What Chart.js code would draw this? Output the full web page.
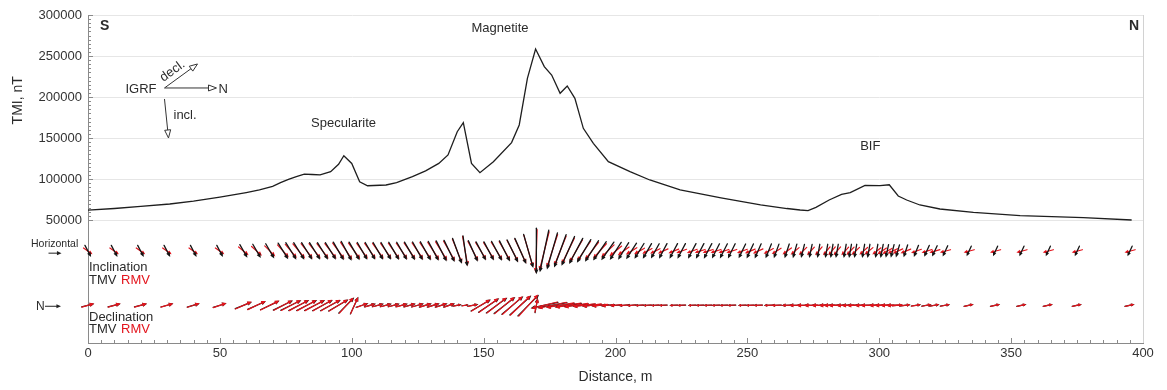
<!DOCTYPE html>
<html>
<head>
<meta charset="utf-8">
<script src="https://cdn.jsdelivr.net/npm/chart.js@4.4.1/dist/chart.umd.min.js"></script>
<style>
  html, body { margin: 0; padding: 0; background: #fff; }
</style>
</head>
<body>
<canvas id="c" width="1167" height="390"></canvas>
<script>
// TMI profile (distance m, nT)
const tmiDist = [0, 10, 20, 31, 40, 50, 60, 65, 70, 73, 76, 79, 82, 85, 88, 92, 95, 97, 100, 103,
  106, 113, 117, 123, 128, 133, 136.5, 140, 142.3, 145.4, 148.6, 153.7, 160.6, 163.5, 166.6, 169.7,
  173, 175.8, 179, 181.7, 184.6, 187.8, 191.6, 197.3, 205.5, 213, 224.5, 240, 255, 265, 270, 273,
  276, 281, 285.7, 289, 294.6, 300.3, 303.8, 307.2, 310.4, 315.4, 323, 335.7, 353.4, 377.4, 395.7];
const tmiValues = [62000, 64000, 66500, 69500, 73000, 78000, 83500, 86600, 91000, 95500, 99600, 103000,
  106000, 105500, 105000, 109000, 118000, 128400, 119000, 96700, 91800, 92700, 95500, 102800, 110000,
  119000, 129300, 157700, 168700, 119000, 107700, 121100, 144400, 165900, 222800, 258500, 237000,
  226800, 204500, 213400, 198400, 161800, 143500, 121100, 109000, 98800, 86600, 77000, 68500, 64000,
  62200, 61400, 65500, 74400, 81300, 83300, 92300, 91800, 93000, 79300, 74400, 68300, 63400, 59400,
  55300, 52800, 50000];

// magnetic vector stations (distance m)
const stations = [
  0, 10, 20, 30, 40, 50, 59, 64, 69, 74,
  77, 80, 83, 86, 89, 92, 95, 98, 101, 104,
  107, 110, 113, 116, 119, 122, 125, 128, 131, 134,
  137, 140, 143, 146, 149, 152, 155, 158, 161, 164,
  167, 170, 173, 176, 179, 182, 185, 188, 191, 194,
  197, 200, 203, 206, 209, 212, 215, 218, 222, 225,
  229, 232, 235, 238, 241, 244, 248, 251, 254, 258,
  261, 265, 268, 271, 274, 277, 280, 282, 284, 287,
  289, 291, 294, 296, 299, 301, 303, 305, 307, 310,
  314, 318, 321, 325, 334, 344, 354, 364, 375, 395];

// inclination section: direction (deg, 0 = N, 90 = down) and relative magnitude
const incTmvAng = [
  62, 62, 62, 62, 62, 62, 60, 60, 60, 58,
  58, 58, 58, 58, 58, 58, 60, 62, 60, 60,
  60, 60, 60, 60, 60, 60, 61, 61, 62, 63,
  64, 70, 82, 66, 62, 62, 62, 63, 64, 66,
  74, 90, 102, 106, 110, 114, 118, 121, 123, 125,
  125, 123, 122, 123, 122, 120, 119, 118, 118, 118,
  118, 118, 118, 117, 117, 116, 116, 115, 114, 112,
  110, 108, 106, 104, 102, 100, 100, 100, 100, 100,
  100, 100, 100, 100, 100, 101, 102, 104, 106, 108,
  112, 114, 115, 115, 115, 115, 115, 115, 115, 115];
const incTmvLen = [
  .26, .26, .26, .26, .26, .26, .30, .32, .34, .38,
  .40, .40, .40, .40, .40, .40, .42, .44, .42, .40,
  .40, .40, .40, .41, .41, .42, .42, .43, .44, .46,
  .48, .54, .62, .46, .42, .42, .44, .46, .50, .56,
  .70, .92, .86, .76, .70, .64, .58, .54, .50, .46,
  .44, .42, .40, .38, .36, .35, .34, .34, .34, .34,
  .34, .34, .34, .33, .33, .33, .32, .32, .32, .31,
  .30, .30, .29, .28, .28, .28, .28, .28, .28, .28,
  .28, .28, .28, .28, .28, .28, .27, .27, .26, .26,
  .25, .25, .24, .24, .22, .22, .22, .22, .22, .22];
const incRmvAng = [
  35, 35, 35, 35, 35, 35, 40, 42, 45, 48,
  50, 50, 52, 52, 52, 52, 54, 56, 54, 54,
  54, 54, 55, 55, 55, 55, 56, 56, 57, 58,
  60, 68, 80, 62, 58, 58, 58, 60, 62, 65,
  74, 92, 104, 108, 112, 116, 120, 124, 128, 132,
  136, 140, 144, 148, 150, 152, 154, 156, 158, 160,
  160, 162, 162, 162, 162, 162, 160, 158, 156, 152,
  148, 144, 140, 136, 132, 130, 130, 130, 130, 132,
  134, 136, 138, 140, 142, 146, 150, 154, 156, 158,
  160, 162, 164, 165, 165, 165, 165, 165, 165, 165];
const incRmvLen = [
  .22, .22, .22, .22, .22, .22, .26, .28, .30, .34,
  .36, .38, .38, .38, .38, .38, .40, .42, .40, .38,
  .38, .38, .38, .39, .39, .40, .40, .41, .42, .44,
  .46, .52, .60, .44, .40, .40, .42, .44, .48, .54,
  .66, .86, .80, .70, .64, .58, .52, .48, .44, .40,
  .36, .32, .28, .26, .24, .22, .22, .22, .22, .22,
  .22, .22, .22, .22, .22, .22, .22, .22, .22, .22,
  .22, .22, .22, .22, .22, .22, .22, .22, .22, .22,
  .22, .22, .22, .22, .22, .22, .22, .22, .22, .22,
  .22, .22, .22, .22, .22, .22, .22, .22, .22, .22];

// declination section (plan view, 0 = N)
const decTmvAng = [
  -14, -14, -14, -15, -16, -17, -22, -24, -25, -26,
  -26, -27, -27, -27, -28, -28, -30, -45, -65, -18,
  -15, -14, -14, -14, -14, -15, -15, -16, -16, -17,
  -18, -10, -8, -10, -30, -34, -36, -38, -40, -42,
  -45, -80, 168, 170, 172, 172, 173, 174, 174, 175,
  175, 176, 176, 176, 177, 177, 177, 178, 178, 178,
  178, 178, 178, 178, 178, 178, 178, 178, 178, 178,
  179, 179, 180, 180, 180, 180, 180, 180, 180, 180,
  180, 180, 180, 180, 180, 180, 180, 180, -4, -6,
  -8, -10, -10, -10, -12, -12, -12, -12, -12, -12];
const decTmvLen = [
  .26, .26, .26, .26, .26, .28, .36, .40, .42, .44,
  .46, .46, .46, .46, .46, .46, .46, .44, .38, .26,
  .24, .24, .24, .24, .25, .25, .26, .26, .26, .26,
  .24, .18, .14, .22, .46, .50, .52, .54, .56, .58,
  .60, .30, .56, .60, .58, .54, .50, .46, .40, .34,
  .28, .24, .20, .19, .18, .18, .17, .17, .17, .17,
  .17, .17, .17, .17, .17, .17, .17, .17, .18, .19,
  .20, .22, .24, .26, .28, .30, .32, .34, .36, .36,
  .36, .36, .36, .34, .32, .30, .28, .26, .22, .20,
  .20, .20, .20, .20, .20, .20, .20, .20, .20, .20];
const decRmvAng = [
  -16, -16, -16, -17, -18, -19, -24, -26, -27, -28,
  -28, -29, -29, -29, -30, -30, -32, -48, -66, -20,
  -17, -16, -16, -16, -16, -17, -17, -18, -18, -19,
  -20, -12, -10, -12, -32, -36, -38, -40, -42, -44,
  -48, -78, 166, 168, 170, 170, 171, 172, 172, 173,
  173, 174, 174, 174, 175, 175, 175, 176, 176, 176,
  176, 176, 176, 176, 176, 176, 176, 177, 177, 177,
  177, 178, 178, 178, 178, 178, 178, 178, 178, 178,
  178, 178, 178, 178, 178, 178, 178, 178, -6, -8,
  -10, -12, -12, -12, -14, -14, -14, -14, -14, -14];
const decRmvLen = [
  .26, .26, .26, .26, .26, .28, .36, .40, .42, .42,
  .44, .44, .44, .44, .44, .44, .44, .42, .36, .24,
  .22, .22, .22, .22, .23, .23, .24, .24, .24, .24,
  .22, .16, .12, .20, .44, .48, .50, .52, .54, .56,
  .58, .28, .54, .58, .56, .52, .48, .44, .38, .32,
  .26, .22, .18, .17, .16, .16, .16, .16, .16, .16,
  .16, .16, .16, .16, .16, .16, .16, .16, .17, .18,
  .19, .21, .23, .25, .27, .29, .31, .33, .35, .35,
  .35, .35, .35, .33, .31, .29, .27, .25, .21, .19,
  .19, .19, .19, .19, .19, .19, .19, .19, .19, .19];

const FONT = '"Liberation Sans", Arial, sans-serif';
const TXT = '#2b2b2b';
const BLACK = '#151515';
const RED = '#e3141c';

// arrow centred on (x, y)
function arrow(ctx, x, y, angDeg, len, color, width) {
  const a = angDeg * Math.PI / 180;
  const c = Math.cos(a), s = Math.sin(a);
  const x0 = x - c * len / 2, y0 = y - s * len / 2;
  const x1 = x + c * len / 2, y1 = y + s * len / 2;
  const h = Math.min(5, len * 0.4);
  ctx.strokeStyle = color; ctx.fillStyle = color; ctx.lineWidth = width;
  ctx.beginPath(); ctx.moveTo(x0, y0); ctx.lineTo(x1 - c * h * 0.5, y1 - s * h * 0.5); ctx.stroke();
  ctx.beginPath();
  ctx.moveTo(x1, y1);
  ctx.lineTo(x1 - h * Math.cos(a - 0.42), y1 - h * Math.sin(a - 0.42));
  ctx.lineTo(x1 - h * Math.cos(a + 0.42), y1 - h * Math.sin(a + 0.42));
  ctx.closePath(); ctx.fill();
}

// open-headed arrow from (x0,y0) to (x1,y1)
function openArrow(ctx, x0, y0, x1, y1) {
  const a = Math.atan2(y1 - y0, x1 - x0), h = 8;
  const bx = x1 - h * Math.cos(a), by = y1 - h * Math.sin(a);
  ctx.beginPath(); ctx.moveTo(x0, y0); ctx.lineTo(bx, by); ctx.stroke();
  ctx.beginPath();
  ctx.moveTo(x1, y1);
  ctx.lineTo(bx + 3 * Math.sin(a), by - 3 * Math.cos(a));
  ctx.lineTo(bx - 3 * Math.sin(a), by + 3 * Math.cos(a));
  ctx.closePath(); ctx.stroke();
}

const INC_ROW = 12000, DEC_ROW = -54000, UNIT = 50;

const vectorRows = {
  id: 'vectorRows',
  afterDatasetsDraw(chart) {
    const { ctx, scales: { x, y } } = chart;
    ctx.save();
    ctx.lineCap = 'round';
    const yi = y.getPixelForValue(INC_ROW);
    stations.forEach((d, i) => arrow(ctx, x.getPixelForValue(d), yi, incRmvAng[i], incRmvLen[i] * UNIT, RED, 1.2));
    stations.forEach((d, i) => arrow(ctx, x.getPixelForValue(d), yi, incTmvAng[i], incTmvLen[i] * UNIT, BLACK, 1.3));
    const yd = y.getPixelForValue(DEC_ROW);
    stations.forEach((d, i) => arrow(ctx, x.getPixelForValue(d), yd, decTmvAng[i], decTmvLen[i] * UNIT, BLACK, 1.2));
    stations.forEach((d, i) => arrow(ctx, x.getPixelForValue(d), yd, decRmvAng[i], decRmvLen[i] * UNIT, RED, 1.2));
    ctx.restore();
  }
};

const decorations = {
  id: 'decorations',
  afterDraw(chart) {
    const { ctx, chartArea: a, scales: { x, y } } = chart;
    ctx.save();
    // minor ticks inside the frame
    ctx.strokeStyle = '#8a8a8a'; ctx.lineWidth = 1;
    ctx.beginPath();
    for (let d = 0; d <= 400; d += 5) {
      const px = Math.round(x.getPixelForValue(d)) + 0.5;
      const h = d % 50 === 0 ? 5 : 3;
      ctx.moveTo(px, a.bottom); ctx.lineTo(px, a.bottom - h);
    }
    for (let v = 50000; v <= 300000; v += 5000) {
      const py = Math.round(y.getPixelForValue(v)) + 0.5;
      const w = v % 50000 === 0 ? 5 : 3;
      ctx.moveTo(a.left, py); ctx.lineTo(a.left + w, py);
    }
    ctx.stroke();
    ctx.strokeStyle = '#d2d2d2';
    ctx.beginPath(); ctx.moveTo(a.right + 0.5, a.top); ctx.lineTo(a.right + 0.5, a.bottom); ctx.stroke();

    // y title
    ctx.fillStyle = TXT; ctx.textAlign = 'center'; ctx.textBaseline = 'middle';
    ctx.font = '14px ' + FONT;
    ctx.save(); ctx.translate(18, y.getPixelForValue(196000)); ctx.rotate(-Math.PI / 2);
    ctx.fillText('TMI, nT', 0, 0); ctx.restore();

    // S / N
    ctx.font = 'bold 14px ' + FONT;
    ctx.textAlign = 'left'; ctx.fillText('S', a.left + 12, 26);
    ctx.textAlign = 'right'; ctx.fillText('N', a.right - 4, 26);

    // ore labels
    ctx.font = '13px ' + FONT; ctx.textAlign = 'center';
    ctx.fillText('Specularite', x.getPixelForValue(96.9), y.getPixelForValue(167900));
    ctx.fillText('Magnetite', x.getPixelForValue(156.2), y.getPixelForValue(283400));
    ctx.fillText('BIF', x.getPixelForValue(296.6), y.getPixelForValue(139300));

    // IGRF sketch
    const ox = x.getPixelForValue(29), oy = y.getPixelForValue(211000);
    ctx.strokeStyle = '#333'; ctx.lineWidth = 1;
    ctx.textAlign = 'right'; ctx.fillText('IGRF', ox - 8, oy + 1);
    openArrow(ctx, ox, oy, ox + 52, oy);
    ctx.textAlign = 'left'; ctx.fillText('N', ox + 54, oy + 1);
    openArrow(ctx, ox, oy, ox + 33, oy - 24);
    openArrow(ctx, ox, oy + 11, ox + 4, oy + 50);
    ctx.fillText('incl.', ox + 9, oy + 27);
    ctx.save(); ctx.translate(ox + 8, oy - 17); ctx.rotate(-36 * Math.PI / 180);
    ctx.textAlign = 'center'; ctx.fillText('decl.', 0, 0); ctx.restore();

    // section legends
    const yi = y.getPixelForValue(INC_ROW), yd = y.getPixelForValue(DEC_ROW);
    ctx.font = '10.5px ' + FONT; ctx.textAlign = 'left';
    ctx.fillText('Horizontal', 31, yi - 7);
    arrow(ctx, 55, yi + 2, 0, 13, '#222', 1);
    ctx.font = '12px ' + FONT; ctx.fillStyle = TXT;
    ctx.fillText('N', 36, yd + 1);
    arrow(ctx, 53, yd + 1, 0, 16, '#222', 1);

    ctx.font = '13px ' + FONT; ctx.fillStyle = TXT;
    ctx.fillText('Inclination', a.left + 1, yi + 16);
    ctx.fillText('TMV', a.left + 1, yi + 29);
    ctx.fillText('Declination', a.left + 1, yd + 12);
    ctx.fillText('TMV', a.left + 1, yd + 24);
    ctx.fillStyle = RED;
    ctx.fillText('RMV', a.left + 33, yi + 29);
    ctx.fillText('RMV', a.left + 33, yd + 24);
    ctx.restore();
  }
};

new Chart(document.getElementById('c'), {
  type: 'line',
  data: {
    datasets: [{
      data: tmiDist.map((d, i) => ({ x: d, y: tmiValues[i] })),
      borderColor: '#1e1e1e',
      borderWidth: 1.3,
      pointRadius: 0,
      tension: 0,
      fill: false
    }]
  },
  options: {
    responsive: false,
    animation: false,
    layout: { padding: { left: 0, right: 24, top: 15, bottom: 0 } },
    plugins: { legend: { display: false }, tooltip: { enabled: false } },
    scales: {
      x: {
        type: 'linear', min: 0, max: 400,
        ticks: { stepSize: 50, color: '#333', font: { family: FONT, size: 13 }, padding: 3, maxRotation: 0 },
        grid: { drawOnChartArea: false, drawTicks: false },
        border: { color: '#8a8a8a' },
        title: { display: true, text: 'Distance, m', color: TXT, font: { family: FONT, size: 14 }, padding: { top: 4, bottom: 4 } },
        afterFit(s) { s.height = 47; }
      },
      y: {
        min: -100000, max: 300000,
        ticks: { stepSize: 50000, color: '#333', font: { family: FONT, size: 13 }, padding: 6,
          callback: v => v >= 50000 ? String(v) : '' },
        grid: { color: c => c.tick && c.tick.value >= 50000 ? '#e6e6e6' : 'rgba(0,0,0,0)', drawTicks: false },
        border: { color: '#8a8a8a' },
        afterFit(s) { s.width = 88; }
      }
    }
  },
  plugins: [vectorRows, decorations]
});
</script>
</body>
</html>
